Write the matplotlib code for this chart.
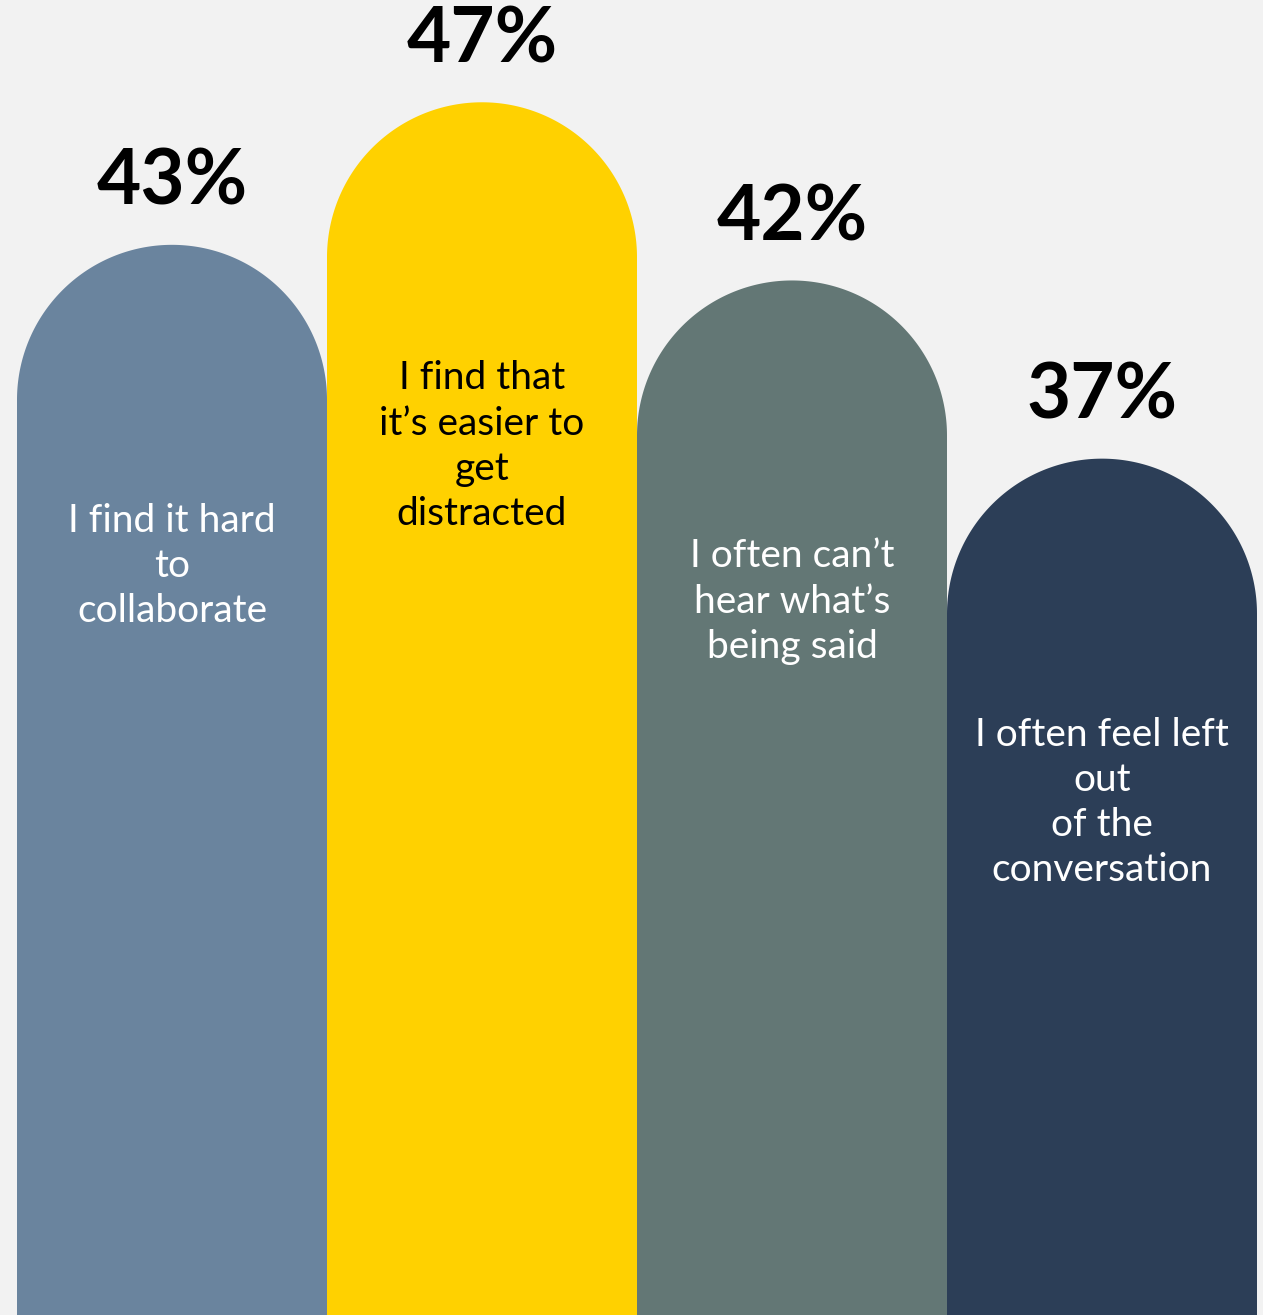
import numpy as np
import matplotlib.pyplot as plt
from matplotlib.patches import PathPatch
from matplotlib.path import Path

plt.rcParams['font.family'] = ['Lato', 'DejaVu Sans']

# data
labels = [
    "I find it hard\nto\ncollaborate",
    "I find that\nit\u2019s easier to\nget\ndistracted",
    "I often can\u2019t\nhear what\u2019s\nbeing said",
    "I often feel left\nout\nof the\nconversation",
]
values = [43, 47, 42, 37]
colors = ['#6a849e', '#ffd100', '#637775', '#2c3e57']
text_colors = ['white', 'black', 'white', 'white']

W, H = 1263, 1315
fig = plt.figure(figsize=(W / 100, H / 100), dpi=100, facecolor='#f2f2f2')
ax = fig.add_axes([0, 0, 1, 1])
ax.set_facecolor('#f2f2f2')
ax.axis('off')

# bar width 310 px, first bar starts 17 px from left
bar_px = 310
xmin = -0.5 - 17 / bar_px
ax.set_xlim(xmin, xmin + W / bar_px)
ylo, yhi = 12.97, 49.87
ax.set_ylim(ylo, yhi)

px_per_y = H / (yhi - ylo)
ry = 0.5 * bar_px / px_per_y   # semicircle height in data units

t = np.linspace(0, np.pi, 160)
for i, (v, c) in enumerate(zip(values, colors)):
    base = v - ry
    xs = np.concatenate([[i + 0.5, i + 0.5], i + 0.5 * np.cos(t), [i - 0.5, i - 0.5]])
    ys = np.concatenate([[0, base], base + ry * np.sin(t), [base, 0]])
    verts = np.column_stack([xs, ys])
    path = Path(np.vstack([verts, verts[:1]]), closed=True)
    ax.add_patch(PathPatch(path, facecolor=c, edgecolor='none'))

    ax.annotate(f"{v}%", (i, v), xytext=(0, 40), textcoords='offset pixels',
                ha='center', va='baseline', fontsize=55, fontweight='bold',
                color='black')
    ax.annotate(labels[i], (i, v), xytext=(0, -258), textcoords='offset pixels',
                ha='center', va='top', fontsize=28, color=text_colors[i],
                linespacing=1.32)

fig.savefig('out.png', dpi=100, facecolor=fig.get_facecolor())
